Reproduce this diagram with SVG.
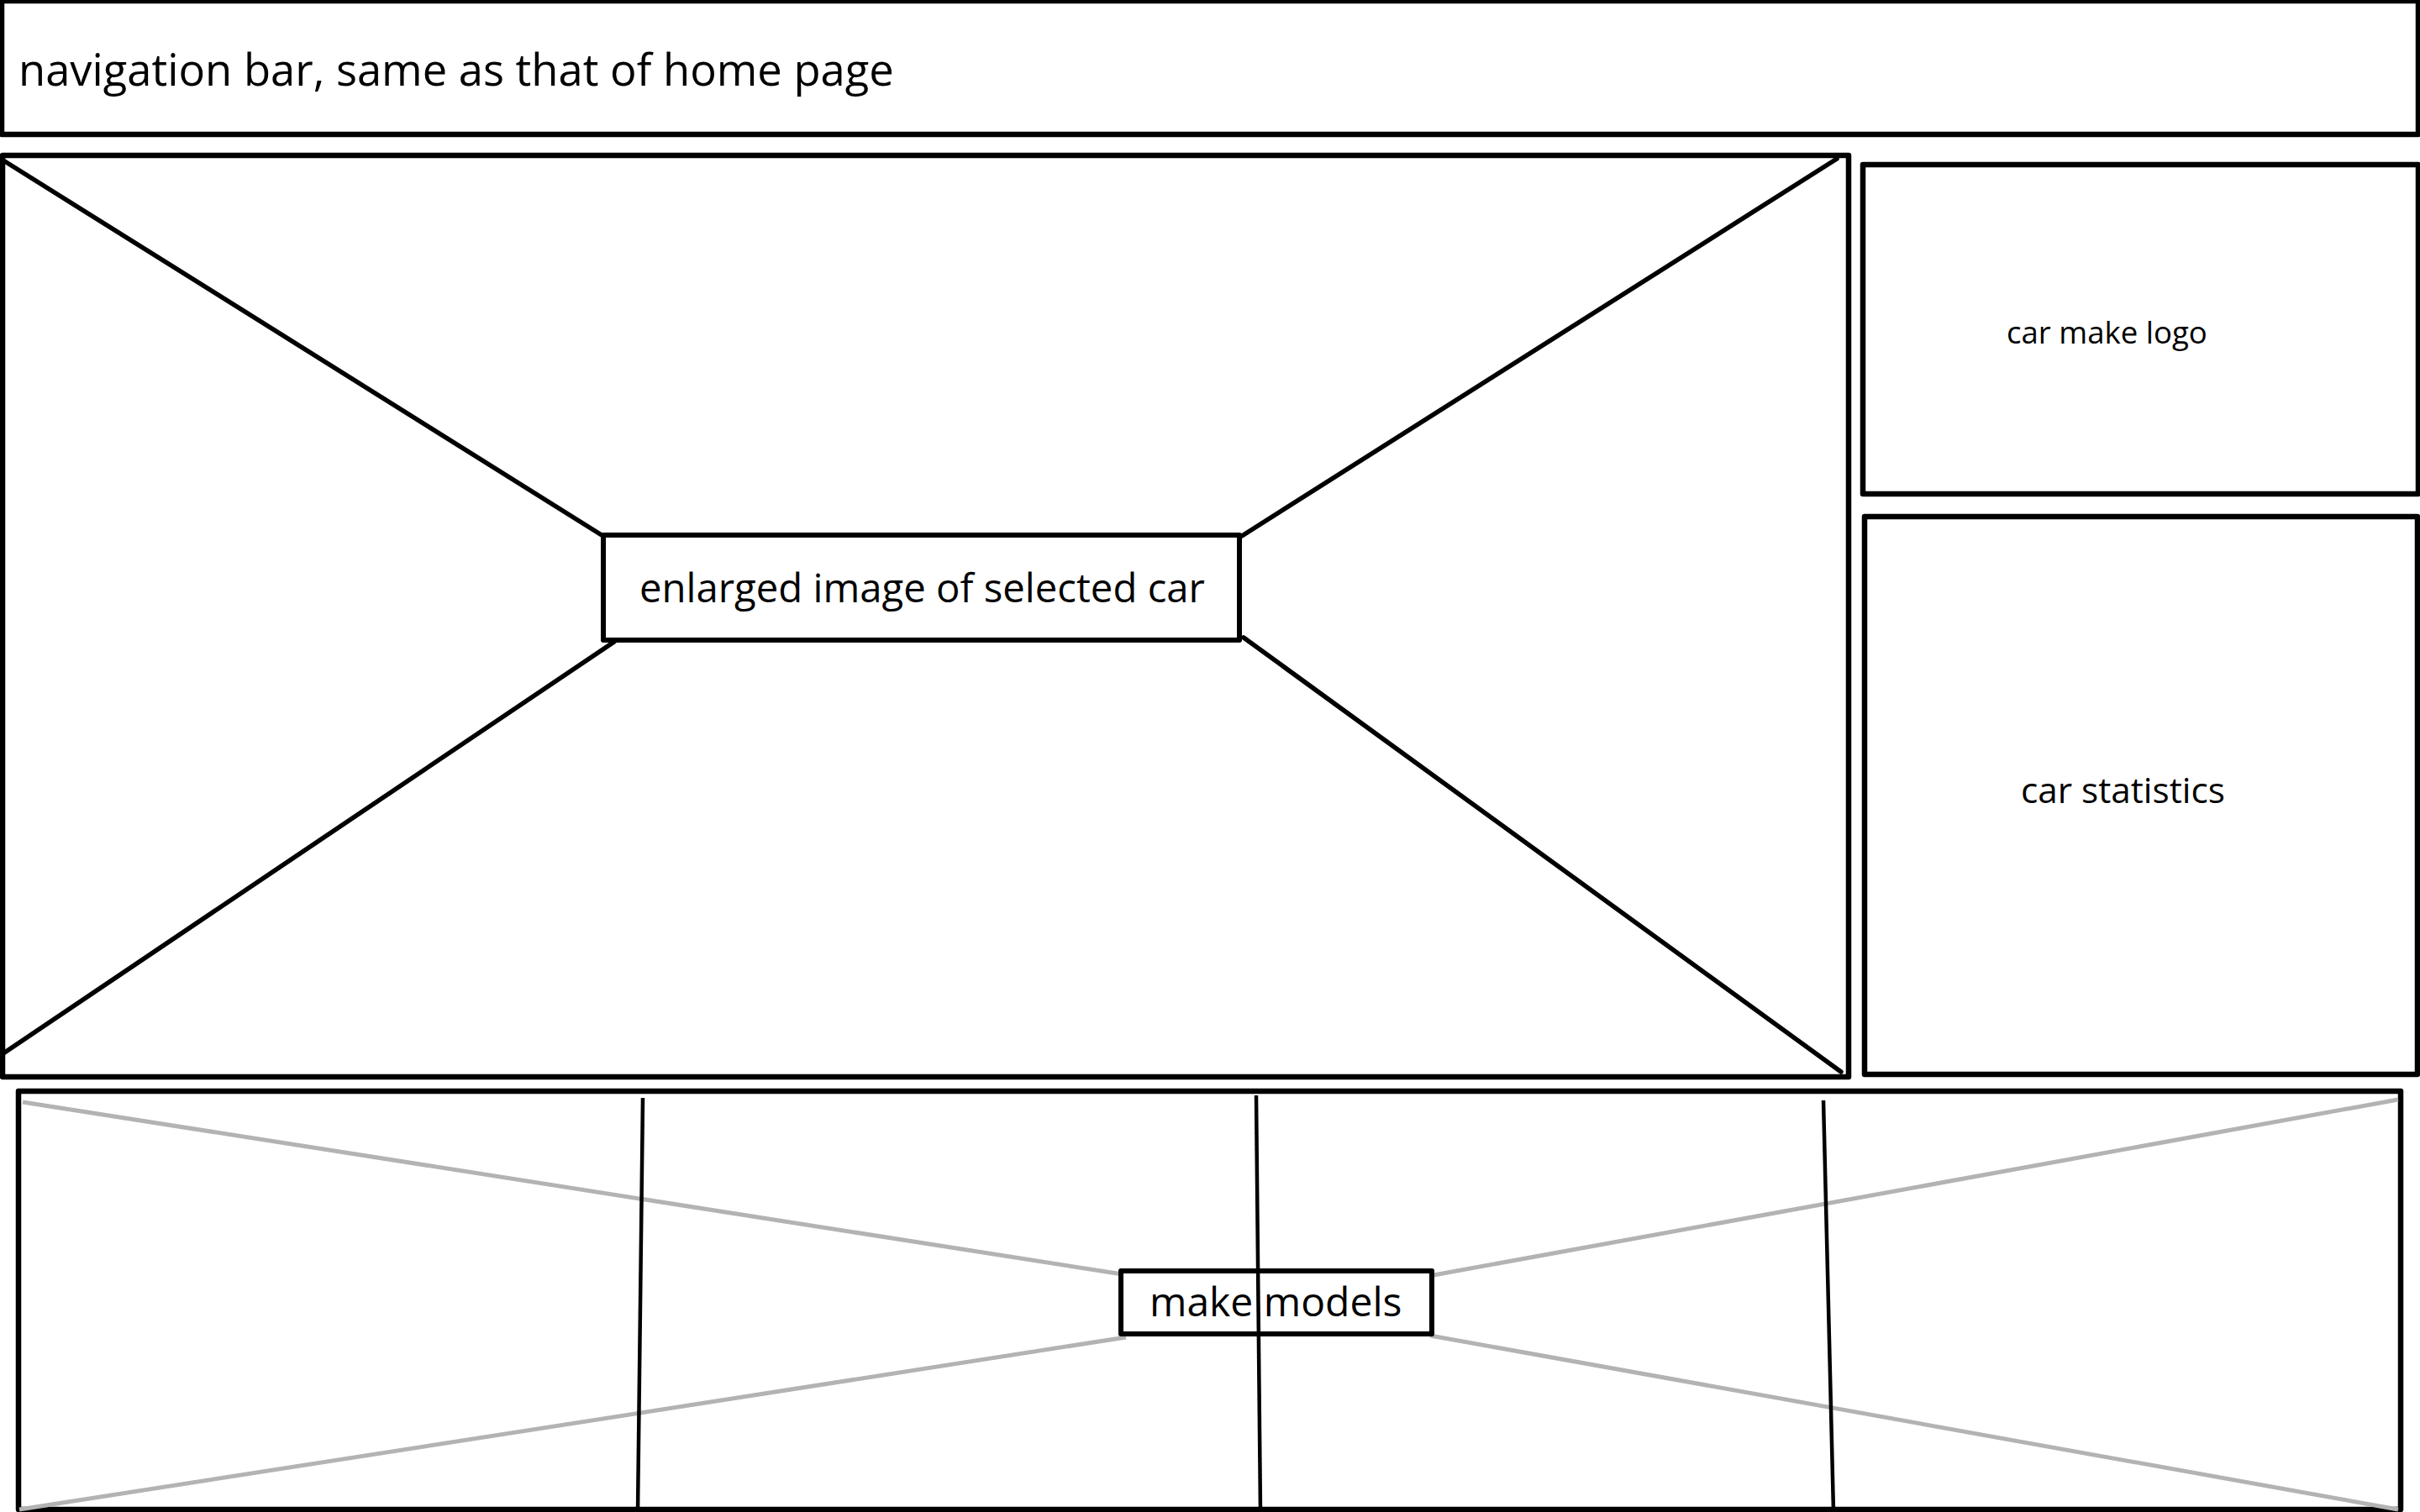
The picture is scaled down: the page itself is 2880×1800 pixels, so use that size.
<svg xmlns="http://www.w3.org/2000/svg" width="2880" height="1800" viewBox="0 0 2880 1800">
  <style>
    .box { fill: none; stroke: #000; stroke-width: 6.5; stroke-linejoin: round; }
    .inner { fill: none; stroke: #000; stroke-width: 6; stroke-linejoin: round; }
    .diag { stroke: #000; stroke-width: 5.5; stroke-linecap: round; fill: none; }
    .vline { stroke: #000; stroke-width: 4.5; fill: none; }
    .gray { stroke: #b3b3b3; stroke-width: 5; fill: none; }
    .lbl { font-family: "Open Sans", "Noto Sans", "DejaVu Sans", sans-serif; fill: #000; }
  </style>
  <rect x="0" y="0" width="2880" height="1800" fill="#fff"/>

  <g id="nav-bar">
    <rect class="box" x="2" y="1" width="2876" height="159"/>
    <text class="lbl" x="22" y="102" font-size="52.5">navigation bar, same as that of home page</text>
  </g>

  <g id="main-image">
    <rect class="box" x="3" y="185" width="2197" height="1097"/>
  </g>

  <g id="car-make-logo">
    <rect class="box" x="2217" y="196" width="661" height="392"/>
    <text class="lbl" x="2388" y="409" font-size="36.6">car make logo</text>
  </g>

  <g id="car-statistics">
    <rect class="box" x="2219" y="615" width="658" height="664"/>
    <text class="lbl" x="2405" y="956" font-size="42.3">car statistics</text>
  </g>

  <g id="make-models-panel">
    <rect class="box" x="22" y="1299" width="2835" height="498"/>
  </g>

  <g id="connectors">
    <line class="diag" x1="4" y1="191" x2="716" y2="637"/>
    <line class="diag" x1="2186" y1="189" x2="1478" y2="638"/>
    <line class="diag" x1="731" y1="764" x2="4" y2="1254"/>
    <line class="diag" x1="1480" y1="759" x2="2191" y2="1276"/>
    <line class="gray" x1="27" y1="1312" x2="1336" y2="1517"/>
    <line class="gray" x1="1340" y1="1592" x2="23" y2="1797"/>
    <line class="gray" x1="1706" y1="1518" x2="2854" y2="1309"/>
    <line class="gray" x1="1702" y1="1590" x2="2854" y2="1797"/>
    <line class="vline" x1="765" y1="1307" x2="759" y2="1800"/>
    <line class="vline" x1="1495" y1="1304" x2="1500" y2="1800"/>
    <line class="vline" x1="2170" y1="1310" x2="2182" y2="1800"/>
  </g>

  <g id="enlarged-image">
    <rect class="inner" x="718" y="637" width="757" height="125"/>
    <text class="lbl" x="761" y="717" font-size="47.3">enlarged image of selected car</text>
  </g>

  <g id="make-models">
    <rect class="inner" x="1334" y="1513" width="370" height="75"/>
    <text class="lbl" x="1368" y="1567" font-size="48">make models</text>
  </g>
</svg>
